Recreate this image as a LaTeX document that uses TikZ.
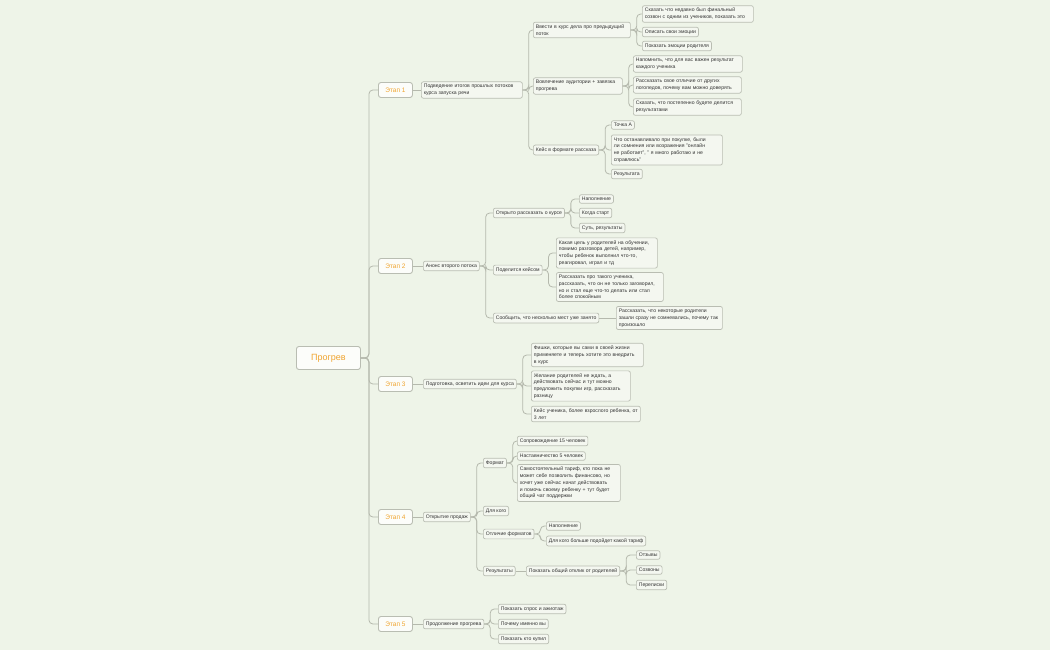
\documentclass[tikz,border=0pt]{standalone}
\usepackage{fontspec}
\setmainfont{Liberation Sans}
\definecolor{bg}{HTML}{EEF4E8}
\definecolor{boxf}{HTML}{F4F7F0}
\definecolor{boxc}{HTML}{B9BDB2}
\definecolor{linec}{HTML}{B5B9AD}
\definecolor{org}{HTML}{F0A530}
\begin{document}
\begin{tikzpicture}[x=1pt,y=-1pt,
 b/.style={draw=boxc,fill=boxf,rounded corners=2,line width=0.7,inner sep=2.5pt,anchor=west,align=left,font=\fontsize{5.1}{6.8}\selectfont,text=black!80},
 st/.style={draw=boxc,fill=white!70!boxf,rounded corners=2.5,line width=0.9,anchor=west,minimum width=34,minimum height=15,font=\fontsize{6.5}{8}\selectfont,text=org},
 w/.style={text width=#1},
 e/.style={draw=linec,line width=0.8,rounded corners=4}]
\fill[bg] (0,0) rectangle (1050,650);
\useasboundingbox (0,0) rectangle (1050,650);
\newcommand{\cn}[2]{\draw[e] (#1.east) -- ++(6,0) |- (#2.west);}
\node[st,minimum width=64,minimum height=23,font=\fontsize{9}{10}\selectfont] (root) at (296,358) {Прогрев};
\node[st] (e1) at (378,90) {Этап 1};
\node[st] (e2) at (378,266) {Этап 2};
\node[st] (e3) at (378,384) {Этап 3};
\node[st] (e4) at (378,517) {Этап 4};
\node[st] (e5) at (378,624) {Этап 5};
\foreach \i in {1,...,5}{\draw[e] (root.east) -- ++(8,0) |- (e\i.west);}
% level 2
\node[b,w=96] (a1) at (421,90) {Подведение итогов прошлых потоков курса запуска речи};
\node[b] (a2) at (423,266) {Анонс второго потока};
\node[b] (a3) at (423,384) {Подготовка, осветить идеи для курса};
\node[b] (a4) at (423,517) {Открытие продаж};
\node[b] (a5) at (423,624) {Продолжение прогрева};
\foreach \i in {1,...,5}{\draw[e] (e\i.east) -- (a\i.west);}
% stage 1
\node[b,w=92] (b1) at (533,30) {Ввести в курс дела про предыдущий поток};
\node[b,w=84] (b2) at (533,86) {Вовлечение аудитории + завязка прогрева};
\node[b] (b3) at (533,150) {Кейс в формате рассказа};
\foreach \i in {1,2,3}{\cn{a1}{b\i}}
\node[b,w=106] (c1) at (642,14) {Сказать что недавно был финальный созвон с одним из учеников, показать это};
\node[b] (c2) at (642,32) {Описать свои эмоции};
\node[b] (c3) at (642,46) {Показать эмоции родителя};
\foreach \i in {1,2,3}{\cn{b1}{c\i}}
\node[b,w=104] (c4) at (633,64) {Напомнить, что для вас важен результат каждого ученика};
\node[b,w=103] (c5) at (633,85) {Рассказать свое отличие от других логопедов, почему вам можно доверять};
\node[b,w=103] (c6) at (633,107) {Сказать, что постепенно будете делится результатами};
\foreach \i in {4,5,6}{\cn{b2}{c\i}}
\node[b] (c7) at (611,125) {Точка А};
\node[b,w=106] (c8) at (611,150) {Что останавливало при покупке, были ли сомнения или возражения "онлайн не работает", " я много работаю и не справлюсь"};
\node[b] (c9) at (611,174) {Результата};
\foreach \i in {7,8,9}{\cn{b3}{c\i}}
% stage 2
\node[b] (d1) at (493,213) {Открыто рассказать о курсе};
\node[b] (d2) at (493,270) {Поделится кейсом};
\node[b] (d3) at (493,318) {Сообщить, что несколько мест уже занято};
\foreach \i in {1,2,3}{\cn{a2}{d\i}}
\node[b] (f1) at (579,199) {Наполнение};
\node[b] (f2) at (579,213) {Когда старт};
\node[b] (f3) at (579,228) {Суть, результаты};
\foreach \i in {1,2,3}{\cn{d1}{f\i}}
\node[b,w=96] (f4) at (556,253) {Какая цель у родителей на обучении, помимо разговора детей, например, чтобы ребенок выполнил что-то, реагировал, играл и тд};
\node[b,w=102] (f5) at (556,287) {Рассказать про такого ученика, рассказать, что он не только заговорил, но и стал еще что-то делать или стал более спокойным};
\foreach \i in {4,5}{\cn{d2}{f\i}}
\node[b,w=101] (f6) at (616,318) {Рассказать, что некоторые родители зашли сразу не сомневались, почему так произошло};
\draw[e] (d3.east) -- (f6.west);
% stage 3
\node[b,w=107] (g1) at (531,355) {Фишки, которые вы сами в своей жизни применяете и теперь хотите это внедрить в курс};
\node[b,w=94] (g2) at (531,386) {Желание родителей не ждать, а действовать сейчас и тут можно предложить покупки игр, рассказать разницу};
\node[b,w=104] (g3) at (531,414) {Кейс ученика, более взрослого ребенка, от 3 лет};
\foreach \i in {1,2,3}{\cn{a3}{g\i}}
% stage 4
\node[b] (h1) at (483,463) {Формат};
\node[b] (h2) at (483,511) {Для кого};
\node[b] (h3) at (483,534) {Отличие форматов};
\node[b] (h4) at (483,571) {Результаты};
\foreach \i in {1,...,4}{\cn{a4}{h\i}}
\node[b] (k1) at (517,441) {Сопровождение 15 человек};
\node[b] (k2) at (517,456) {Наставничество 5 человек};
\node[b,w=98] (k3) at (517,483) {Самостоятельный тариф, кто пока не может себе позволить финансово, но хочет уже сейчас начат действовать и помочь своему ребенку + тут будет общий чат поддержки};
\foreach \i in {1,2,3}{\cn{h1}{k\i}}
\node[b] (k4) at (546,526) {Наполнение};
\node[b] (k5) at (546,541) {Для кого больше подойдет какой тариф};
\foreach \i in {4,5}{\cn{h3}{k\i}}
\node[b] (k6) at (526,571) {Показать общий отклик от родителей};
\draw[e] (h4.east) -- (k6.west);
\node[b] (m1) at (636,555) {Отзывы};
\node[b] (m2) at (636,570) {Созвоны};
\node[b] (m3) at (636,585) {Переписки};
\foreach \i in {1,2,3}{\cn{k6}{m\i}}
% stage 5
\node[b] (n1) at (498,609) {Показать спрос и ажиотаж};
\node[b] (n2) at (498,624) {Почему именно вы};
\node[b] (n3) at (498,639) {Показать кто купил};
\foreach \i in {1,2,3}{\cn{a5}{n\i}}
\end{tikzpicture}
\end{document}
